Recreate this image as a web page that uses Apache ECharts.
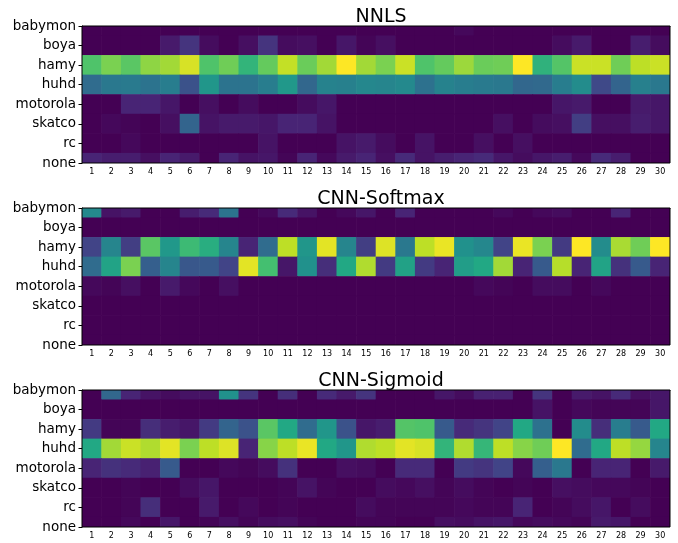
<!DOCTYPE html>
<html>
<head>
<meta charset="utf-8">
<script src="https://cdn.jsdelivr.net/npm/echarts@6/dist/echarts.min.js"></script>
<style>
html,body{margin:0;padding:0;background:#fff;}
#chart{width:678px;height:543px;}
</style>
</head>
<body>
<div id="chart"></div>
<script>
const rows = ['babymon','boya','hamy','huhd','motorola','skatco','rc','none'];
const cols = ['1','2','3','4','5','6','7','8','9','10','11','12','13','14','15','16','17','18','19','20','21','22','23','24','25','26','27','28','29','30'];
const titles = ['NNLS','CNN-Softmax','CNN-Sigmoid'];

// NNLS (rows x 30 columns), normalised 0..1
const nnls = [
  [0,0,0,0,0,0,0,0,0,0,0,0,0,0,0,0,0,0,0,0.02,0,0,0,0,0,0,0,0,0,0],
  [0,0,0,0,0.07,0.15,0.03,0,0.04,0.15,0.03,0.04,0,0.06,0.01,0.04,0,0,0,0,0,0,0,0,0.03,0.07,0,0,0.08,0.03],
  [0.72,0.8,0.74,0.83,0.86,0.94,0.72,0.78,0.65,0.76,0.91,0.77,0.86,1.0,0.86,0.8,0.92,0.72,0.76,0.85,0.77,0.78,1.0,0.64,0.73,0.92,0.92,0.78,0.9,0.92],
  [0.35,0.4,0.41,0.38,0.42,0.25,0.52,0.38,0.38,0.42,0.53,0.33,0.44,0.43,0.46,0.45,0.47,0.37,0.44,0.42,0.41,0.4,0.33,0.34,0.42,0.48,0.22,0.32,0.43,0.4],
  [0,0,0.1,0.1,0.06,0,0.04,0,0.03,0,0,0.03,0.06,0,0,0,0,0,0,0,0,0,0,0,0.06,0.07,0,0,0.07,0.06],
  [0,0.02,0.01,0,0.04,0.32,0.05,0.07,0.07,0.06,0.1,0.1,0.05,0,0,0,0,0,0,0,0,0.04,0,0.03,0.04,0.18,0.04,0.04,0.08,0.06],
  [0,0,0.02,0,0,0,0,0,0,0.05,0,0,0,0.05,0.07,0.03,0,0.05,0,0,0.04,0,0.04,0,0,0,0,0,0,0],
  [0.1,0.08,0.08,0.04,0.1,0.07,0,0.1,0.05,0.06,0.01,0.1,0.02,0.07,0.1,0.04,0.12,0.05,0.08,0.1,0.12,0.06,0.03,0.06,0.08,0.02,0.12,0.08,0,0]
];

const softmax = [
  [0.47,0.05,0.07,0,0,0.08,0.12,0.38,0,0.02,0.12,0.05,0,0.02,0.06,0,0.1,0,0,0,0,0.02,0,0.02,0.03,0,0,0.1,0,0],
  [0,0,0,0,0,0,0,0,0,0,0,0,0,0,0,0,0,0,0,0,0,0,0,0,0,0,0,0,0,0],
  [0.2,0.45,0.18,0.74,0.53,0.68,0.62,0.45,0.1,0.35,0.9,0.52,0.96,0.45,0.18,0.95,0.4,0.9,0.97,0.5,0.46,0.2,0.97,0.8,0.17,1.0,0.48,0.87,0.78,1.0],
  [0.35,0.58,0.8,0.3,0.45,0.27,0.28,0.2,0.96,0.7,0.06,0.5,0.13,0.6,0.88,0.17,0.57,0.17,0.1,0.55,0.6,0.86,0.1,0.28,0.89,0.1,0.58,0.14,0.28,0.1],
  [0.02,0.01,0.04,0,0.07,0.02,0,0.04,0,0,0,0,0,0,0,0,0,0,0,0,0.02,0.01,0,0.03,0.03,0,0.02,0,0,0],
  [0,0,0,0,0,0,0,0,0,0,0,0,0,0,0,0,0,0,0,0,0,0,0,0,0,0,0,0,0,0],
  [0,0,0,0,0,0,0,0,0,0,0,0,0,0,0,0,0,0,0,0,0,0,0,0,0,0,0,0,0,0],
  [0,0,0,0,0,0,0,0,0,0,0,0,0,0,0,0,0,0,0,0,0,0,0,0,0,0,0,0,0,0]
];

const sigmoid = [
  [0,0.33,0.1,0.05,0.03,0.05,0.05,0.5,0.15,0,0.13,0,0.12,0.07,0.15,0,0,0,0.06,0.03,0.09,0.09,0,0.15,0,0.07,0.05,0.12,0.04,0.06],
  [0,0,0,0,0,0,0,0,0,0,0,0,0,0,0,0,0,0,0,0,0,0,0,0.05,0,0.02,0.01,0.01,0.01,0.06],
  [0.17,0.01,0.01,0.13,0.08,0.06,0.17,0.32,0.25,0.74,0.6,0.35,0.52,0.25,0.06,0.08,0.73,0.72,0.28,0.12,0.15,0.2,0.6,0.37,0,0.48,0.13,0.42,0.28,0.6],
  [0.6,0.86,0.92,0.88,0.96,0.8,0.9,0.95,0.1,0.82,0.9,0.97,0.6,0.52,0.88,0.9,0.96,0.94,0.65,0.88,0.66,0.9,0.82,0.78,1.0,0.35,0.6,0.9,0.84,0.45],
  [0.1,0.14,0.12,0.09,0.28,0,0,0.02,0.01,0.03,0.14,0,0,0.04,0.03,0,0.12,0.12,0,0.17,0.15,0.2,0.02,0.3,0.4,0,0.1,0.1,0,0.07],
  [0,0,0.01,0,0,0.03,0.06,0,0,0,0.01,0.05,0.01,0,0,0.03,0.02,0.04,0.01,0.03,0.01,0,0.01,0,0.04,0.03,0.02,0.02,0.01,0],
  [0,0,0.01,0.13,0,0,0.07,0,0.02,0,0.01,0,0,0,0.03,0.01,0.01,0.01,0.01,0.02,0.01,0.01,0.1,0,0.01,0.03,0.06,0,0.03,0],
  [0,0,0.02,0,0.06,0,0.01,0.04,0.01,0.03,0.04,0.01,0,0,0.01,0.01,0,0,0.04,0.03,0.05,0.06,0.02,0.03,0.02,0.01,0.07,0.06,0,0]
];

const panels = [nnls, softmax, sigmoid];
const gridTops = [26, 208, 390];
const viridis = ['#440154','#482475','#414487','#355f8d','#2a788e','#21918c','#22a884','#44bf70','#7ad151','#bddf26','#fde725'];

function toData(m) {
  const out = [];
  for (let r = 0; r < rows.length; r++)
    for (let c = 0; c < cols.length; c++)
      out.push([c, r, m[r][c]]);
  return out;
}

function renderItem(params, api) {
  const c = api.coord([api.value(0), api.value(1)]);
  const s = api.size([1, 1]);
  const w = s[0] + 0.6, h = s[1] + 0.6;
  const rect = echarts.graphic.clipRectByRect(
    {x: c[0] - w / 2, y: c[1] - h / 2, width: w, height: h},
    {x: params.coordSys.x, y: params.coordSys.y, width: params.coordSys.width, height: params.coordSys.height}
  );
  if (!rect) return;
  return {type: 'rect', shape: rect, style: {fill: api.visual('color')}};
}

const font = 'DejaVu Sans';
const option = {
  animation: false,
  backgroundColor: '#fff',
  title: titles.map((t, i) => ({
    text: t, left: 376, top: gridTops[i] - 23, textAlign: 'center',
    textStyle: {fontFamily: font, fontSize: 19, fontWeight: 'normal', color: '#000'}
  })),
  grid: gridTops.map(t => ({left: 82, right: 8, top: t, height: 137, show: true, borderColor: '#000', borderWidth: 1, backgroundColor: 'transparent', z: 10})),
  xAxis: gridTops.map((t, i) => ({
    type: 'category', gridIndex: i, data: cols,
    axisLine: {show: true, lineStyle: {color: '#000', width: 1}},
    axisTick: {show: true, alignWithLabel: true, length: 3.5, lineStyle: {color: '#000'}},
    axisLabel: {fontFamily: font, fontSize: 8, color: '#000', margin: 5, interval: 0},
    splitLine: {show: false}
  })),
  yAxis: gridTops.map((t, i) => ({
    type: 'value', gridIndex: i, min: 0, max: 7, interval: 1, inverse: true,
    axisLine: {show: true, lineStyle: {color: '#000', width: 1}},
    axisTick: {show: true, length: 3.5, lineStyle: {color: '#000'}},
    axisLabel: {fontFamily: font, fontSize: 13.5, color: '#000', margin: 6, formatter: v => rows[v] || ''},
    splitLine: {show: false}
  })),
  visualMap: {
    type: 'continuous', show: false, min: 0, max: 1, dimension: 2,
    seriesIndex: [0, 1, 2], inRange: {color: viridis}
  },
  series: panels.map((m, i) => ({
    type: 'custom', xAxisIndex: i, yAxisIndex: i,
    renderItem: renderItem, encode: {x: 0, y: 1},
    data: toData(m)
  }))
};

const chart = echarts.init(document.getElementById('chart'), null, {renderer: 'canvas'});
chart.setOption(option);
</script>
</body>
</html>
